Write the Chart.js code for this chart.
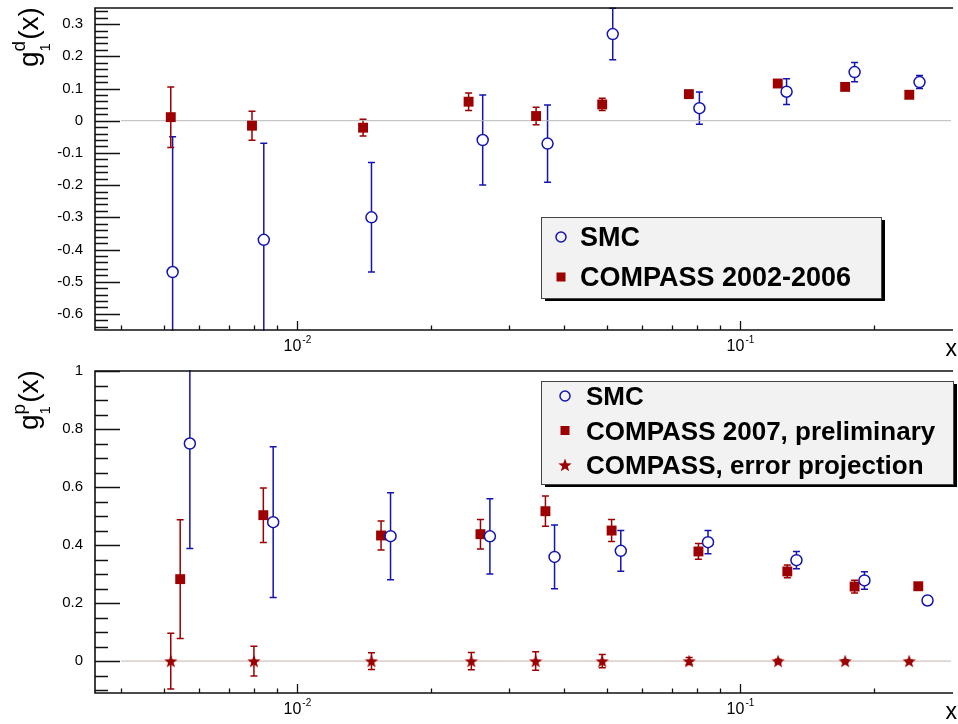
<!DOCTYPE html>
<html>
<head>
<meta charset="utf-8">
<script src="https://cdn.jsdelivr.net/npm/chart.js@4.4.1/dist/chart.umd.min.js"></script>
<style>
  html, body { margin: 0; padding: 0; background: #fff; overflow: hidden; }
  #wrap { position: relative; width: 958px; height: 724px; }
  canvas { position: absolute; left: 0; }
</style>
</head>
<body>
<div id="wrap">
  <canvas id="chartD" width="958" height="362" style="top:0"></canvas>
  <canvas id="chartP" width="958" height="362" style="top:362px"></canvas>
</div>
<script>
// x range (log scale) shared by both pads
var xMin = 0.003494;
var xMax = 0.2987;
var xMajor = [0.01, 0.1];
var xMajorExp = ['-2', '-1'];
var xMinor = [0.004, 0.005, 0.006, 0.007, 0.008, 0.009, 0.02, 0.03, 0.04, 0.05, 0.06, 0.07, 0.08, 0.09, 0.2];

// ---- deuteron pad ----
var yTicksD = [-0.6, -0.5, -0.4, -0.3, -0.2, -0.1, 0, 0.1, 0.2, 0.3];
var smcDX = [0.00523, 0.0084, 0.0147, 0.0262, 0.0367, 0.0515, 0.0808, 0.1271, 0.181, 0.2536];
var smcDY = [-0.47, -0.37, -0.30, -0.06, -0.071, 0.269, 0.039, 0.09, 0.151, 0.12];
var smcDErr = [0.42, 0.30, 0.17, 0.14, 0.12, 0.08, 0.05, 0.04, 0.03, 0.02];
var cmpDX = [0.00518, 0.0079, 0.01407, 0.02435, 0.03458, 0.04876, 0.0765, 0.1214, 0.1723, 0.2405];
var cmpDY = [0.011, -0.0155, -0.0217, 0.059, 0.0145, 0.0505, 0.0826, 0.1155, 0.105, 0.0805];
var cmpDErr = [0.094, 0.045, 0.026, 0.027, 0.027, 0.019, 0.008, 0.006, 0.005, 0.005];

// ---- proton pad ----
var yTicksP = [0, 0.2, 0.4, 0.6, 0.8, 1];
var smcPX = [0.00572, 0.00882, 0.01623, 0.0272, 0.03806, 0.0537, 0.0845, 0.1338, 0.1905, 0.2644];
var smcPY = [0.75, 0.479, 0.4306, 0.43, 0.359, 0.38, 0.41, 0.348, 0.278, 0.209];
var smcPErr = [0.362, 0.26, 0.15, 0.13, 0.11, 0.07, 0.04, 0.03, 0.03, 0.015];
var cmpPX = [0.00544, 0.00838, 0.01545, 0.0259, 0.0363, 0.0512, 0.0804, 0.1276, 0.181, 0.252];
var cmpPY = [0.2825, 0.503, 0.433, 0.4375, 0.5167, 0.45, 0.378, 0.309, 0.257, 0.258];
var cmpPErr = [0.205, 0.094, 0.05, 0.051, 0.052, 0.038, 0.027, 0.022, 0.022, 0.008];
var projX = [0.00518, 0.00798, 0.0147, 0.0247, 0.0345, 0.04876, 0.0766, 0.1216, 0.1723, 0.2403];
var projY = [0, 0, 0, 0, 0, 0, 0, 0, 0, 0];
var projErr = [0.096, 0.051, 0.029, 0.03, 0.032, 0.023, 0.012, 0.006, 0.005, 0.003];

var zeroLineX = [0.004, 0.2987];
var zeroLineY = [0, 0];

var BLUE = '#1414b0';
var RED = '#9c0000';
var FONT = '"Liberation Sans", Arial, Helvetica, sans-serif';

function pts(xs, ys) {
  var out = [];
  for (var i = 0; i < xs.length; i++) out.push({x: xs[i], y: ys[i]});
  return out;
}

function starPath(ctx, cx, cy, ro, ri) {
  ctx.beginPath();
  for (var i = 0; i < 10; i++) {
    var r = (i % 2 == 0) ? ro : ri;
    var a = -Math.PI / 2 + i * Math.PI / 5;
    var px = cx + r * Math.cos(a), py = cy + r * Math.sin(a);
    if (i == 0) ctx.moveTo(px, py); else ctx.lineTo(px, py);
  }
  ctx.closePath();
}

function starCanvas(r) {
  var c = document.createElement('canvas');
  var s = Math.ceil(2 * r + 2);
  c.width = s; c.height = s;
  var g = c.getContext('2d');
  g.fillStyle = RED;
  starPath(g, s / 2, s / 2 + 0.6, r, r * 0.42);
  g.fill();
  return c;
}
var starImg = starCanvas(7);
var starLegendImg = starCanvas(7);

// error bars, drawn under the markers
var errorBars = {
  id: 'errorBars',
  beforeDatasetsDraw: function(chart) {
    var ctx = chart.ctx, a = chart.chartArea;
    var xs = chart.scales.x, ys = chart.scales.y;
    ctx.save();
    ctx.beginPath();
    ctx.rect(a.left, a.top - 1, a.right - a.left, a.bottom - a.top + 2);
    ctx.clip();
    chart.data.datasets.forEach(function(ds) {
      if (!ds.err) return;
      ctx.strokeStyle = ds.borderColor;
      ctx.lineWidth = 1.5;
      ds.data.forEach(function(p, i) {
        var e = ds.err[i];
        var px = xs.getPixelForValue(p.x);
        var y1 = ys.getPixelForValue(p.y + e), y2 = ys.getPixelForValue(p.y - e);
        ctx.beginPath();
        ctx.moveTo(px, y1); ctx.lineTo(px, y2);
        ctx.moveTo(px - 3.5, y1); ctx.lineTo(px + 3.5, y1);
        ctx.moveTo(px - 3.5, y2); ctx.lineTo(px + 3.5, y2);
        ctx.stroke();
      });
    });
    ctx.restore();
  }
};

// ROOT-like frame, ticks, labels, titles and legend
var frame = {
  id: 'frame',
  afterDraw: function(chart, args, opts) {
    var ctx = chart.ctx, a = chart.chartArea;
    var xs = chart.scales.x, ys = chart.scales.y;
    ctx.save();
    ctx.strokeStyle = '#111';
    ctx.lineWidth = 1.6;
    ctx.beginPath();
    ctx.moveTo(a.right + 2, a.top); ctx.lineTo(a.left, a.top);
    ctx.lineTo(a.left, a.bottom); ctx.lineTo(a.right + 2, a.bottom);
    ctx.stroke();

    // y ticks (inward)
    ctx.lineWidth = 1.3;
    ctx.beginPath();
    var step = opts.yMinorStep;
    var k0 = Math.ceil(ys.min / step - 1e-6), k1 = Math.floor(ys.max / step + 1e-6);
    for (var k = k0; k <= k1; k++) {
      var val = k * step;
      var yy = Math.round(ys.getPixelForValue(val)) + 0.5;
      var r = val / opts.yMajorStep;
      var isMajor = Math.abs(r - Math.round(r)) < 1e-6;
      ctx.moveTo(a.left, yy);
      ctx.lineTo(a.left + (isMajor ? 25 : 13), yy);
    }
    // x ticks
    xMajor.forEach(function(t) {
      var px = Math.round(xs.getPixelForValue(t)) + 0.5;
      ctx.moveTo(px, a.bottom); ctx.lineTo(px, a.bottom - 9);
    });
    xMinor.forEach(function(t) {
      var px = Math.round(xs.getPixelForValue(t)) + 0.5;
      ctx.moveTo(px, a.bottom); ctx.lineTo(px, a.bottom - 4.5);
    });
    ctx.stroke();

    // x tick labels 10^n
    ctx.fillStyle = '#000';
    ctx.textBaseline = 'alphabetic';
    ctx.textAlign = 'left';
    xMajor.forEach(function(t, i) {
      var px = xs.getPixelForValue(t);
      ctx.font = '16px ' + FONT;
      var w1 = ctx.measureText('10').width;
      ctx.font = '10px ' + FONT;
      var w2 = ctx.measureText(xMajorExp[i]).width;
      var x0 = px - (w1 + w2 + 1) / 2;
      ctx.font = '16px ' + FONT;
      ctx.fillText('10', x0, a.bottom + 21);
      ctx.font = '10px ' + FONT;
      ctx.fillText(xMajorExp[i], x0 + w1 + 1, a.bottom + 13);
    });

    // x axis title
    ctx.font = '23px ' + FONT;
    ctx.textAlign = 'right';
    ctx.fillText('x', 957, a.bottom + 26);

    // y axis title g_1^d(x)
    ctx.save();
    ctx.translate(38, a.top + 59);
    ctx.rotate(-Math.PI / 2);
    ctx.textAlign = 'left';
    ctx.font = '28px ' + FONT;
    ctx.fillText('g', 0, 0);
    var wg = ctx.measureText('g').width;
    ctx.font = '19px ' + FONT;
    ctx.fillText(opts.sup, wg, -13);
    var ws = ctx.measureText(opts.sup).width;
    ctx.font = '15px ' + FONT;
    ctx.fillText('1', wg, 12);
    var wb = ctx.measureText('1').width;
    ctx.font = '28px ' + FONT;
    ctx.fillText('(x)', wg + Math.max(ws, wb) + 1, 0);
    ctx.restore();

    // legend box with shadow
    var L = opts.legend;
    ctx.fillStyle = '#000';
    ctx.fillRect(L.x + 4, L.y + 3, L.w, L.h);
    ctx.fillStyle = '#f2f2f2';
    ctx.fillRect(L.x, L.y, L.w, L.h);
    ctx.strokeStyle = '#444';
    ctx.lineWidth = 1;
    ctx.strokeRect(L.x + 0.5, L.y + 0.5, L.w, L.h);
    ctx.font = 'bold ' + L.font + 'px ' + FONT;
    ctx.textAlign = 'left';
    ctx.textBaseline = 'middle';
    chart.data.datasets.forEach(function(ds, i) {
      if (!ds.err) return;
      var cy = L.y + L.row0 + i * L.rowStep;
      if (ds.pointStyle == 'circle') {
        ctx.strokeStyle = ds.borderColor;
        ctx.lineWidth = 1.5;
        ctx.beginPath();
        ctx.arc(L.mx, cy - 1, 5, 0, Math.PI * 2);
        ctx.stroke();
      } else if (ds.pointStyle == 'rect') {
        ctx.fillStyle = ds.backgroundColor;
        ctx.fillRect(L.mx - 4.5, cy - 5.5, 9, 9);
      } else {
        ctx.drawImage(starLegendImg, L.mx - starLegendImg.width / 2, cy - starLegendImg.height / 2 - 1);
      }
      ctx.fillStyle = '#000';
      ctx.fillText(ds.label, L.tx, cy + 1);
    });
    ctx.restore();
  }
};

function makeChart(id, datasets, yMin, yMax, yTicks, opts, padTop, padBottom) {
  var ctx = document.getElementById(id).getContext('2d');
  return new Chart(ctx, {
    type: 'scatter',
    data: { datasets: datasets },
    options: {
      responsive: false,
      animation: false,
      layout: { padding: { top: padTop, bottom: padBottom, left: 0, right: 0 } },
      plugins: {
        legend: { display: false },
        tooltip: { enabled: false },
        frame: opts
      },
      scales: {
        x: {
          type: 'logarithmic',
          min: xMin,
          max: xMax,
          display: false
        },
        y: {
          type: 'linear',
          min: yMin,
          max: yMax,
          afterFit: function(scale) {
            scale.width = 95;
            scale.paddingTop = 0;
            scale.paddingBottom = 0;
          },
          afterBuildTicks: function(scale) {
            scale.ticks = yTicks.map(function(v) { return {value: v}; });
          },
          grid: { display: false, drawTicks: false },
          border: { display: false },
          ticks: {
            padding: 12,
            color: '#000',
            font: { family: FONT, size: 15 },
            callback: function(v) { return String(Math.round(v * 100) / 100); }
          }
        }
      }
    },
    plugins: [errorBars, frame]
  });
}

function zeroLine(color) {
  return {
    type: 'line',
    data: pts(zeroLineX, zeroLineY),
    borderColor: color,
    borderWidth: 1,
    pointRadius: 0,
    order: 5
  };
}

makeChart('chartD', [
  {
    label: 'SMC', data: pts(smcDX, smcDY), err: smcDErr,
    pointStyle: 'circle', pointRadius: 5.5, borderColor: BLUE, borderWidth: 1.5,
    backgroundColor: '#fff', order: 0
  },
  {
    label: 'COMPASS 2002-2006', data: pts(cmpDX, cmpDY), err: cmpDErr,
    pointStyle: 'rect', pointRadius: 7, borderColor: RED, borderWidth: 0,
    backgroundColor: RED, order: 1
  },
  zeroLine('#b8b8b8')
], -0.65, 0.35, yTicksD, {
  sup: 'd', yMajorStep: 0.1, yMinorStep: 0.02,
  legend: { x: 541, y: 217, w: 340, h: 81, font: 27, row0: 21, rowStep: 40, mx: 561, tx: 580 }
}, 8, 32);

makeChart('chartP', [
  {
    label: 'SMC', data: pts(smcPX, smcPY), err: smcPErr,
    pointStyle: 'circle', pointRadius: 5.5, borderColor: BLUE, borderWidth: 1.5,
    backgroundColor: '#fff', order: 0
  },
  {
    label: 'COMPASS 2007, preliminary', data: pts(cmpPX, cmpPY), err: cmpPErr,
    pointStyle: 'rect', pointRadius: 7, borderColor: RED, borderWidth: 0,
    backgroundColor: RED, order: 1
  },
  {
    label: 'COMPASS, error projection', data: pts(projX, projY), err: projErr,
    pointStyle: starImg, pointRadius: 6, borderColor: RED, borderWidth: 0,
    backgroundColor: RED, order: 2
  },
  zeroLine('#c4b4ac')
], -0.11, 1, yTicksP, {
  sup: 'p', yMajorStep: 0.2, yMinorStep: 0.05,
  legend: { x: 541, y: 19, w: 412, h: 103, font: 26, row0: 16, rowStep: 34.5, mx: 565, tx: 586 }
}, 9, 31);
</script>
</body>
</html>
